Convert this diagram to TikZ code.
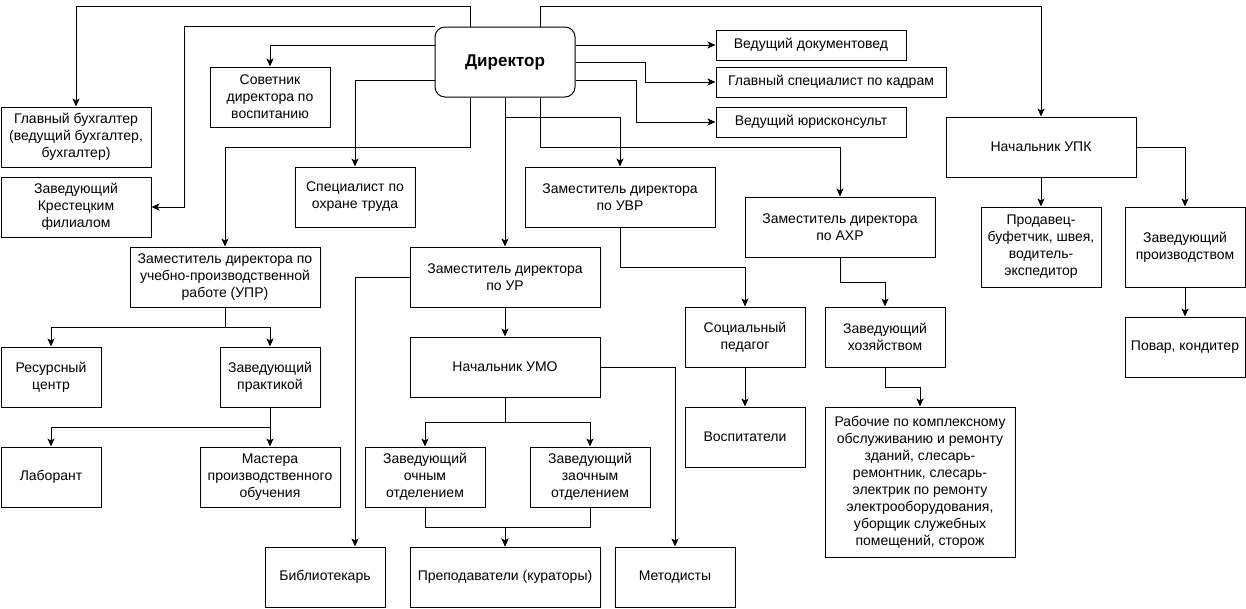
\documentclass[tikz,border=0pt]{standalone}
\usepackage{fontspec}
\setmainfont{Liberation Sans}
\usetikzlibrary{arrows.meta,positioning}
\tikzstyle{block} = [rectangle, draw, line width=1pt, align=center,
    text centered, inner sep=0pt, minimum width=120pt, minimum height=60pt]
\tikzstyle{wideblock} = [block, minimum width=190pt]
\tikzstyle{slimblock} = [block, minimum width=190pt, minimum height=30pt]
\tikzstyle{headblock} = [block, rounded corners=10pt, minimum width=140pt,
    minimum height=70pt, font=\fontsize{17}{20}\selectfont\bfseries]
\tikzstyle{link} = [draw, line width=1pt, -{Stealth[length=8pt,width=7pt,inset=2pt]}]
\tikzstyle{every node}=[font=\fontsize{14}{17}\selectfont]

\begin{document}
\begin{tikzpicture}[x=1pt,y=-1pt]
	\useasboundingbox (0,0) rectangle (1246,608);
	% Place nodes
	\node [headblock] (dir) at (505,62) {Директор};
	\node [block, minimum width=150pt] (buh) at (76,137) {Главный бухгалтер\\(ведущий бухгалтер,\\бухгалтер)};
	\node [block, minimum width=150pt] (fil) at (76,207) {Заведующий\\Крестецким\\филиалом};
	\node [block] (sov) at (270,97) {Советник\\директора по\\воспитанию};
	\node [block] (ohr) at (355,197) {Специалист по\\охране труда};
	\node [wideblock] (upr) at (225,277) {Заместитель директора по\\учебно-производственной\\работе (УПР)};
	\node [wideblock] (ur) at (505,277) {Заместитель директора\\по УР};
	\node [wideblock] (uvr) at (620,197) {Заместитель директора\\по УВР};
	\node [wideblock] (ahr) at (840,227) {Заместитель директора\\по АХР};
	\node [slimblock] (doc) at (811,45) {Ведущий документовед};
	\node [slimblock, minimum width=230pt] (kadr) at (831,82) {Главный специалист по кадрам};
	\node [slimblock] (jur) at (811,122) {Ведущий юрисконсульт};
	\node [wideblock] (upk) at (1041,147) {Начальник УПК};
	\node [block, minimum height=80pt] (prod) at (1041,247) {Продавец-\\буфетчик, швея,\\водитель-\\экспедитор};
	\node [block, minimum height=80pt] (proizv) at (1185,247) {Заведующий\\производством};
	\node [block] (povar) at (1185,347) {Повар, кондитер};
	\node [block] (soc) at (745,337) {Социальный\\педагог};
	\node [block] (hoz) at (885,337) {Заведующий\\хозяйством};
	\node [block] (vosp) at (745,437) {Воспитатели};
	\node [block, minimum width=190pt, minimum height=150pt] (rab) at (920,482) {Рабочие по комплексному\\обслуживанию и ремонту\\зданий, слесарь-\\ремонтник, слесарь-\\электрик по ремонту\\электрооборудования,\\уборщик служебных\\помещений, сторож};
	\node [wideblock] (umo) at (505,367) {Начальник УМО};
	\node [block, minimum width=100pt] (res) at (51,377) {Ресурсный\\центр};
	\node [block, minimum width=100pt] (prak) at (270,377) {Заведующий\\практикой};
	\node [block, minimum width=100pt] (lab) at (51,477) {Лаборант};
	\node [block, minimum width=140pt] (mast) at (270,477) {Мастера\\производственного\\обучения};
	\node [block] (och) at (425,477) {Заведующий\\очным\\отделением};
	\node [block] (zaoch) at (590,477) {Заведующий\\заочным\\отделением};
	\node [block] (bib) at (325,577) {Библиотекарь};
	\node [wideblock] (prep) at (505,577) {Преподаватели (кураторы)};
	\node [block] (met) at (675,577) {Методисты};

	% Director links
	\draw [link] ([xshift=-35pt]dir.north) -- ++(0,-20) -| (buh.north);
	\draw [link] (dir.north west) -- ++(-250,0) |- (fil.east);
	\draw [link] ([yshift=17pt]dir.west) -| (sov.north);
	\draw [link] ([yshift=-18pt]dir.west) -| (ohr.north);
	\draw [link] ([xshift=-35pt]dir.south) -- ++(0,50) -| (upr.north);
	\draw [link] (dir.south) -- (ur.north);
	\draw [link] ([yshift=-20pt]dir.south) -| (uvr.north);
	\draw [link] ([xshift=35pt]dir.south) -- ++(0,50) -| (ahr.north);
	\draw [link] ([yshift=17pt]dir.east) -- (doc.west);
	\draw [link] (dir.east) -- ++(70,0) |- (kadr.west);
	\draw [link] ([yshift=-18pt]dir.east) -- ++(61,0) |- (jur.west);
	\draw [link] ([xshift=35pt]dir.north) -- ++(0,-20) -| (upk.north);

	% UPK
	\draw [link] (upk.south) -- (prod.north);
	\draw [link] (upk.east) -| (proizv.north);
	\draw [link] (proizv.south) -- (povar.north);

	% UVR and AHR
	\draw [link] (uvr.south) -- ++(0,40) -| (soc.north);
	\draw [link] (ahr.south) -- ++(0,25) -| (hoz.north);
	\draw [link] (soc.south) -- (vosp.north);
	\draw [link] (hoz.south) -- ++(0,20) -| (rab.north);

	% UPR
	\draw [link] (upr.south) -- ++(0,20) -| (res.north);
	\draw [link] (upr.south) -- ++(0,20) -| (prak.north);
	\draw [link] (prak.south) -- ++(0,20) -| (lab.north);
	\draw [link] (prak.south) -- (mast.north);

	% UR
	\draw [link] (ur.west) -| ([xshift=30pt]bib.north);
	\draw [link] (ur.south) -- (umo.north);
	\draw [link] (umo.south) -- ++(0,25) -| (och.north);
	\draw [link] (umo.south) -- ++(0,25) -| (zaoch.north);
	\draw [link] (och.south) -- ++(0,20) -| (prep.north);
	\draw [link] (zaoch.south) -- ++(0,20) -| (prep.north);
	\draw [link] (umo.east) -| (met.north);
\end{tikzpicture}
\end{document}
